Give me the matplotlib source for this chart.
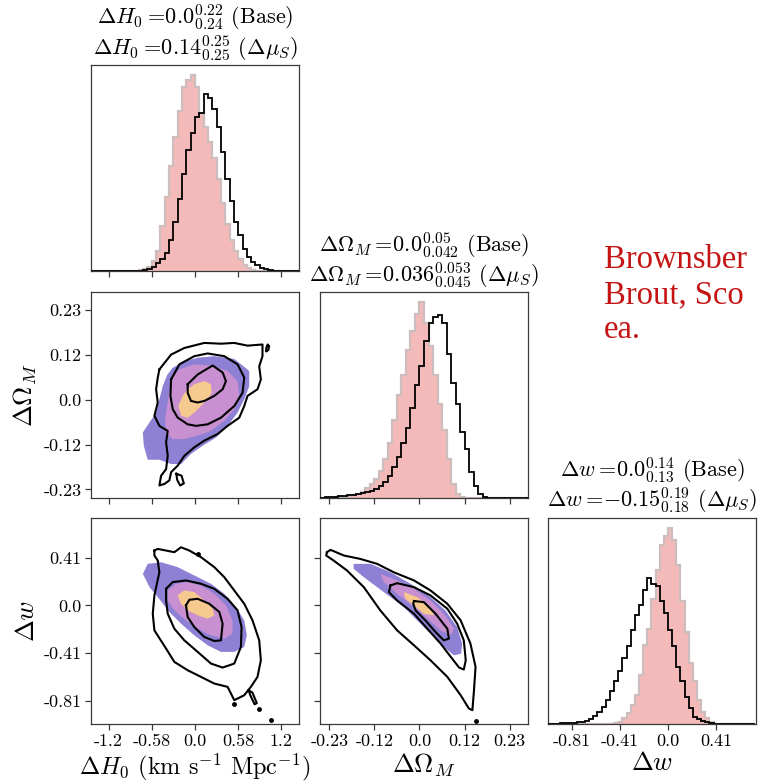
import numpy as np
import matplotlib.pyplot as plt

plt.rcParams['font.family'] = 'cmr10'
plt.rcParams['mathtext.fontset'] = 'cm'
plt.rcParams['axes.unicode_minus'] = False

# ---- axis ranges, ticks ----
h0_lim = (-1.392, 1.392)
om_lim = (-0.253, 0.276)
w_lim = (-1.01, 0.74)

h0_ticks = [-1.16, -0.58, 0.0, 0.58, 1.16]
h0_labels = ['-1.2', '-0.58', '0.0', '0.58', '1.2']
om_ticks = [-0.23, -0.115, 0.0, 0.115, 0.23]
om_labels = ['-0.23', '-0.12', '0.0', '0.12', '0.23']
w_ticks = [-0.81, -0.405, 0.0, 0.405]
w_labels = ['-0.81', '-0.41', '0.0', '0.41']

# ---- 1D histograms (height in % of panel) ----
h0_edges = np.linspace(-1.392, 1.392, 49)
h0_base = [0, 0, 0, 0, 0, 0, 0, 0, 0, 0, 0,
           0.5, 1, 2, 5, 10, 22, 36, 51, 65, 78, 89.5, 93, 95.5, 89.5, 77, 70,
           63, 55, 45, 33, 23, 15, 10, 6, 3, 1.5, 0.5,
           0, 0, 0, 0, 0, 0, 0, 0, 0, 0]
h0_dmu = [0, 0, 0, 0, 0, 0, 0, 0, 0, 0, 0, 0,
          0.5, 1, 2, 4, 6, 9, 15, 24, 35, 47, 59, 67, 75, 77, 86, 84, 79, 70,
          58, 45, 34, 24, 17.5, 11, 7, 4.5, 3, 1.6, 1, 0.5,
          0, 0, 0, 0, 0, 0]

om_edges = np.linspace(-0.253, 0.276, 47)
om_base = [0.2, 0.2, 0.3, 0.4, 0.6, 0.8, 1, 1.5, 2, 3.2, 5, 7, 9.4, 13.4, 19,
           27, 38, 50, 60, 72, 81, 89.5,
           95.5, 85, 74, 60, 46, 33, 19, 7, 2, 0.5,
           0, 0, 0, 0, 0, 0, 0, 0, 0, 0, 0, 0, 0, 0]
om_dmu = [0.3, 0.4, 0.6, 0.8, 1, 1.2, 1.4, 1.7, 2, 2.5, 3, 3.5, 4.5, 6, 8, 11,
          15, 20, 27, 34, 44, 55,
          64, 76.5, 85, 88, 89, 85, 70, 56, 46, 32, 24, 13, 6, 2, 0.5,
          0, 0, 0, 0, 0, 0, 0, 0, 0]

w_edges = np.linspace(-1.015, 0.735, 51)
w_base = [0, 0, 0, 0, 0, 0, 0, 0, 0, 0, 0, 0, 0, 0, 0, 0,
          0.5, 1.3, 3, 5.3, 9.4, 14.2, 24, 38.5, 46.5, 61, 75, 87, 91.5, 95.5,
          89.5, 77.5, 60, 45, 30, 21, 12, 6, 3, 1,
          0, 0, 0, 0, 0, 0, 0, 0, 0, 0]
w_dmu = [0.1, 0.2, 0.3, 0.4, 0.5, 0.6, 0.8, 1, 1.2, 1.6,
         2.6, 4, 6, 8.6, 11.8, 16, 21, 26, 32, 38,
         46, 53, 58, 65, 71, 68, 67, 60, 54, 46,
         38, 28, 21, 13.4, 7.8, 3.7, 2.6, 1.6, 1, 0.5,
         0.2, 0, 0, 0, 0, 0, 0, 0, 0, 0]

# ---- 2D contours: (H0, Om) panel ----
a_fill_x = [
    [-0.30, -0.143, 0.036, 0.259, 0.527, 0.728, 0.728, 0.661, 0.571, 0.4375, 0.281, 0.103,
     -0.054, -0.1875, -0.321, -0.478, -0.634, -0.6875, -0.70, -0.61, -0.522, -0.478, -0.433, -0.375],
    [-0.321, -0.21, -0.009, 0.214, 0.4375, 0.571, 0.594, 0.527, 0.393, 0.214, 0.036, -0.143,
     -0.299, -0.388, -0.402, -0.366, -0.344],
    [-0.098, -0.009, 0.125, 0.214, 0.223, 0.17, 0.08, -0.009, -0.098, -0.1875, -0.223, -0.165]]
a_fill_y = [
    [0.082, 0.099, 0.108, 0.112, 0.105, 0.074, 0.035, 0.001, -0.033, -0.067, -0.097, -0.118,
     -0.139, -0.165, -0.165, -0.154, -0.154, -0.118, -0.084, -0.058, -0.033, 0.001, 0.035, 0.063],
    [0.052, 0.078, 0.091, 0.088, 0.074, 0.048, 0.010, -0.024, -0.054, -0.080, -0.092, -0.101,
     -0.101, -0.084, -0.050, -0.007, 0.027],
    [0.027, 0.040, 0.048, 0.040, 0.018, 0.001, -0.016, -0.033, -0.046, -0.041, -0.016, 0.010]]
a_line_x = [
    [-0.478, -0.321, -0.143, 0.125, 0.348, 0.527, 0.705, 0.906, 0.906, 0.862, 0.884, 0.839,
     0.705, 0.661, 0.594, 0.4375, 0.304, 0.125, -0.009, -0.143, -0.232, -0.321, -0.344, -0.41,
     -0.478, -0.455, -0.388, -0.366, -0.388, -0.366, -0.478, -0.545, -0.5, -0.522, -0.5],
    [-0.321, -0.21, -0.009, 0.17, 0.393, 0.571, 0.661, 0.638, 0.527, 0.348, 0.17, 0.013,
     -0.098, -0.232, -0.299, -0.33],
    [-0.098, 0.036, 0.237, 0.371, 0.415, 0.371, 0.259, 0.125, 0.036, -0.054, -0.098],
    [0.96, 0.985, 0.995, 0.975, 0.955],
    [-0.25, -0.18, -0.15, -0.2, -0.24]]
a_line_y = [
    [0.078, 0.116, 0.133, 0.146, 0.144, 0.146, 0.139, 0.142, 0.112, 0.086, 0.052, 0.027,
     0.010, -0.016, -0.046, -0.067, -0.088, -0.105, -0.122, -0.144, -0.169, -0.186, -0.207, -0.216,
     -0.220, -0.195, -0.178, -0.144, -0.109, -0.080, -0.067, -0.041, -0.007, 0.027, 0.057],
    [0.052, 0.091, 0.112, 0.119, 0.112, 0.091, 0.057, 0.018, -0.016, -0.046, -0.063, -0.067,
     -0.063, -0.046, -0.024, 0.010],
    [0.040, 0.065, 0.088, 0.070, 0.048, 0.027, 0.010, -0.003, -0.007, -0.003, 0.018],
    [0.125, 0.128, 0.138, 0.142, 0.132],
    [-0.19, -0.195, -0.215, -0.22, -0.205]]

# ---- 2D contours: (H0, w) panel ----
b_fill_x = [
    [-0.70, -0.634, -0.455, -0.232, -0.009, 0.214, 0.393, 0.549, 0.661, 0.696, 0.661, 0.527,
     0.348, 0.17, -0.009, -0.1875, -0.344, -0.5, -0.61],
    [-0.366, -0.254, -0.098, 0.08, 0.259, 0.415, 0.504, 0.504, 0.393, 0.214, 0.036, -0.121,
     -0.277, -0.366],
    [-0.232, -0.143, -0.009, 0.125, 0.237, 0.259, 0.17, 0.036, -0.098, -0.188]]
b_fill_y = [
    [0.268, 0.353, 0.367, 0.325, 0.254, 0.184, 0.099, -0.014, -0.127, -0.254, -0.353, -0.395,
     -0.395, -0.339, -0.254, -0.155, -0.056, 0.071, 0.155],
    [0.127, 0.184, 0.198, 0.169, 0.099, 0.0, -0.127, -0.24, -0.282, -0.254, -0.198, -0.127,
     -0.042, 0.042],
    [0.085, 0.127, 0.113, 0.042, -0.028, -0.085, -0.113, -0.085, -0.042, 0.014]]
b_line_x = [
    [-0.545, -0.5, -0.277, -0.188, -0.076, 0.08, 0.259, 0.393, 0.527, 0.661, 0.772, 0.862,
     0.884, 0.839, 0.75, 0.661, 0.527, 0.4375, 0.259, 0.08, -0.098, -0.277, -0.388, -0.545,
     -0.567, -0.545, -0.478, -0.5, -0.545],
    [-0.388, -0.299, -0.121, 0.08, 0.259, 0.4375, 0.571, 0.625, 0.616, 0.527, 0.371, 0.214,
     0.036, -0.143, -0.277, -0.366, -0.388],
    [-0.121, -0.076, 0.036, 0.192, 0.326, 0.371, 0.348, 0.259, 0.125, -0.009, -0.098],
    [0.72, 0.77, 0.83, 0.80, 0.74]]
b_line_y = [
    [0.466, 0.480, 0.452, 0.494, 0.466, 0.410, 0.325, 0.240, 0.127, 0.014, -0.127, -0.297,
     -0.466, -0.607, -0.692, -0.763, -0.805, -0.692, -0.664, -0.607, -0.551, -0.480, -0.367, -0.212,
     -0.071, 0.085, 0.282, 0.381, 0.424],
    [0.141, 0.198, 0.212, 0.184, 0.141, 0.056, -0.042, -0.184, -0.353, -0.494, -0.528, -0.494,
     -0.395, -0.297, -0.198, -0.071, 0.042],
    [0.0, 0.048, 0.056, 0.014, -0.056, -0.155, -0.297, -0.302, -0.268, -0.184, -0.099],
    [-0.72, -0.74, -0.83, -0.84, -0.76]]
b_dots_x = [0.527, 0.86, 1.02, 0.04]
b_dots_y = [-0.84, -0.876, -0.975, 0.44]

# ---- 2D contours: (Om, w) panel ----
c_fill_x = [
    [-0.168, -0.125, -0.074, -0.023, 0.028, 0.066, 0.096, 0.109, 0.106, 0.088, 0.062, 0.028,
     -0.006, -0.040, -0.091, -0.142, -0.168],
    [-0.1, -0.057, -0.014, 0.028, 0.062, 0.088, 0.080, 0.054, 0.020, -0.014, -0.057, -0.091],
    [-0.040, -0.006, 0.028, 0.037, 0.011, -0.014, -0.036]]
c_fill_y = [
    [0.353, 0.353, 0.282, 0.184, 0.071, -0.042, -0.184, -0.325, -0.410, -0.424, -0.353, -0.240,
     -0.127, -0.014, 0.113, 0.240, 0.311],
    [0.268, 0.212, 0.141, 0.042, -0.071, -0.198, -0.254, -0.212, -0.113, -0.014, 0.099, 0.198],
    [0.113, 0.071, -0.014, -0.085, -0.071, 0.0, 0.056]]
c_line_x = [
    [-0.236, -0.227, -0.193, -0.151, -0.108, -0.066, -0.014, 0.028, 0.071, 0.105, 0.130, 0.143,
     0.139, 0.135, 0.126, 0.105, 0.071, 0.028, -0.014, -0.057, -0.1, -0.142, -0.185, -0.219, -0.238],
    [-0.074, -0.057, -0.014, 0.028, 0.071, 0.096, 0.113, 0.118, 0.113, 0.101, 0.080, 0.054,
     0.020, -0.014, -0.057, -0.078],
    [-0.014, 0.011, 0.041, 0.071, 0.075, 0.062, 0.041, 0.015, -0.010, -0.016]]
c_line_y = [
    [0.452, 0.472, 0.424, 0.395, 0.353, 0.282, 0.212, 0.127, 0.014, -0.127, -0.325, -0.523,
     -0.720, -0.890, -0.876, -0.763, -0.607, -0.466, -0.339, -0.212, -0.042, 0.155, 0.297, 0.381, 0.424],
    [0.169, 0.189, 0.155, 0.085, -0.028, -0.155, -0.297, -0.466, -0.545, -0.528, -0.438, -0.325,
     -0.198, -0.071, 0.042, 0.113],
    [0.037, 0.028, -0.071, -0.198, -0.282, -0.297, -0.226, -0.127, -0.042, 0.014]]
c_dots_x = [0.145]
c_dots_y = [-0.98]

# ---- titles ----
titles = [
    (r'$\Delta H_0 =\!0.0^{0.22}_{0.24}$ (Base)', r'$\Delta H_0 =\!0.14^{0.25}_{0.25}$ ($\Delta\mu_S$)'),
    (r'$\Delta\Omega_M =\!0.0^{0.05}_{0.042}$ (Base)', r'$\Delta\Omega_M =\!0.036^{0.053}_{0.045}$ ($\Delta\mu_S$)'),
    (r'$\Delta w =\!0.0^{0.14}_{0.13}$ (Base)', r'$\Delta w =\!{-}0.15^{0.19}_{0.18}$ ($\Delta\mu_S$)'),
]

# red note pasted over the slide (cut by the slide edge in the reference)
note_lines = ['Brownsber', 'Brout, Sco', 'ea.']

fill_colors = ['#8e80d4', '#c890d0', '#f6c98f']
hist_fill = '#f4baba'
hist_edge = '#cdbdbd'
spine_c = '#3a3a3a'

W, H = 760, 782
fig = plt.figure(figsize=(W / 100, H / 100), dpi=100)
col_left = [91.3, 320.3, 548.3]
row_top = [65.3, 292.3, 518.3]
pw, ph = 207.4, 206.0


def make_ax(r, c):
    ax = fig.add_axes([col_left[c] / W, 1 - (row_top[r] + ph) / H, pw / W, ph / H])
    for s in ax.spines.values():
        s.set_color(spine_c)
        s.set_linewidth(0.9)
    ax.tick_params(direction='out', length=4, width=0.9, color=spine_c,
                   labelsize=13, pad=3)
    return ax


def closed(v):
    return list(v) + [v[0]]


def hist_panel(ax, edges, base, dmu, lim, ticks, t):
    ax.stairs(base, edges, fill=True, color=hist_fill, zorder=1)
    ax.stairs(base, edges, color=hist_edge, lw=1.6, zorder=2)
    ax.stairs(dmu, edges, color='black', lw=1.3, zorder=3)
    ax.set_xlim(lim)
    ax.set_ylim(0, 100)
    ax.set_yticks([])
    ax.set_xticks(ticks)
    ax.text(0.5, 1.01, t[1], transform=ax.transAxes, ha='center', va='bottom', fontsize=16)
    ax.text(0.5, 1.155, t[0], transform=ax.transAxes, ha='center', va='bottom', fontsize=16)


def contour_panel(ax, fx, fy, lx, ly, dx=None, dy=None):
    for x, y, c in zip(fx, fy, fill_colors):
        ax.fill(x, y, color=c, lw=0, zorder=1)
    for x, y in zip(lx, ly):
        ax.plot(closed(x), closed(y), color='black', lw=1.5, zorder=3)
    if dx is not None:
        ax.plot(dx, dy, 'o', color='black', ms=2.5, zorder=3)


# row 1: H0 histogram
ax = make_ax(0, 0)
hist_panel(ax, h0_edges, h0_base, h0_dmu, h0_lim, h0_ticks, titles[0])
ax.set_xticklabels([])

# row 2
ax = make_ax(1, 0)
contour_panel(ax, a_fill_x, a_fill_y, a_line_x, a_line_y)
ax.set_xlim(h0_lim)
ax.set_ylim(om_lim)
ax.set_xticks(h0_ticks)
ax.set_xticklabels([])
ax.set_yticks(om_ticks)
ax.set_yticklabels(om_labels)
ax.set_ylabel(r'$\Delta\Omega_M$', fontsize=19)
ax.yaxis.set_label_coords(-0.25, 0.5)

ax = make_ax(1, 1)
hist_panel(ax, om_edges, om_base, om_dmu, om_lim, om_ticks, titles[1])
ax.set_xticklabels([])

# row 3
ax = make_ax(2, 0)
contour_panel(ax, b_fill_x, b_fill_y, b_line_x, b_line_y, b_dots_x, b_dots_y)
ax.set_xlim(h0_lim)
ax.set_ylim(w_lim)
ax.set_xticks(h0_ticks)
ax.set_xticklabels(h0_labels)
ax.set_yticks(w_ticks)
ax.set_yticklabels(w_labels)
ax.set_ylabel(r'$\Delta w$', fontsize=19)
ax.yaxis.set_label_coords(-0.25, 0.5)
ax.set_xlabel(r'$\Delta H_0$ (km s$^{-1}$ Mpc$^{-1}$)', fontsize=17.5)
ax.xaxis.set_label_coords(0.5, -0.13)

ax = make_ax(2, 1)
contour_panel(ax, c_fill_x, c_fill_y, c_line_x, c_line_y, c_dots_x, c_dots_y)
ax.set_xlim(om_lim)
ax.set_ylim(w_lim)
ax.set_xticks(om_ticks)
ax.set_xticklabels(om_labels)
ax.set_yticks(w_ticks)
ax.set_yticklabels([])
ax.set_xlabel(r'$\Delta\Omega_M$', fontsize=19)
ax.xaxis.set_label_coords(0.5, -0.13)

ax = make_ax(2, 2)
hist_panel(ax, w_edges, w_base, w_dmu, w_lim, w_ticks, titles[2])
ax.set_xticklabels(w_labels)
ax.set_xlabel(r'$\Delta w$', fontsize=19)
ax.xaxis.set_label_coords(0.5, -0.13)

for yy, s in zip([268, 303, 338], note_lines):
    fig.text(604 / W, 1 - yy / H, s, color='#c41414', fontsize=23.5,
             family='Liberation Serif', va='baseline', ha='left')

fig.savefig('out.png', dpi=100)
